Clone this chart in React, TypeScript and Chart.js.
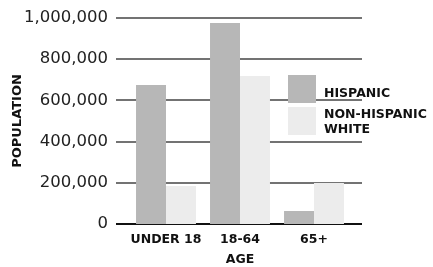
import React, { useEffect, useRef } from "react";
import { Chart, registerables } from "chart.js";

Chart.register(...registerables);

const categories = ["UNDER 18", "18-64", "65+"];
const hispanic = [675000, 976000, 63000];
const nonHispanicWhite = [184000, 718000, 199000];
const seriesNames = [["HISPANIC"], ["NON-HISPANIC", "WHITE"]];
const yTicks = [0, 200000, 400000, 600000, 800000, 1000000];

const HISP_COLOR = "#b7b7b7";
const NHW_COLOR = "#ececec";
const FONT = "'DejaVu Sans', sans-serif";

const gridPlugin = {
  id: "extGrid",
  beforeDatasetsDraw(chart: any) {
    const { ctx, chartArea, scales } = chart;
    const y = scales.y;
    ctx.save();
    yTicks.forEach((v) => {
      const py = Math.round(y.getPixelForValue(v));
      ctx.beginPath();
      if (v === 0) {
        ctx.strokeStyle = "#111";
        ctx.lineWidth = 2;
      } else {
        ctx.strokeStyle = "#444";
        ctx.lineWidth = 1.5;
      }
      ctx.moveTo(chartArea.left - 13, py);
      ctx.lineTo(chartArea.right + 11, py);
      ctx.stroke();
    });
    ctx.restore();
  },
  afterDatasetsDraw(chart: any) {
    const { ctx, chartArea } = chart;
    const colors = [HISP_COLOR, NHW_COLOR];
    const x0 = chartArea.right - 63;
    let top = 75;
    ctx.save();
    ctx.font = "bold 12.5px " + FONT;
    ctx.textBaseline = "alphabetic";
    seriesNames.forEach((lines, i) => {
      ctx.fillStyle = colors[i];
      ctx.fillRect(x0, top, 28, 28);
      ctx.fillStyle = "#111";
      lines.forEach((ln, j) => {
        ctx.fillText(ln, x0 + 36, top + (i === 0 ? 22 : 11) + j * 14.5);
      });
      top += 32;
    });
    ctx.restore();
  },
};

export default function App() {
  const ref = useRef<HTMLCanvasElement>(null);
  useEffect(() => {
    if (!ref.current) return;
    const chart = new Chart(ref.current, {
      type: "bar",
      data: {
        labels: categories,
        datasets: [
          { label: "Hispanic", data: hispanic, backgroundColor: HISP_COLOR },
          { label: "Non-Hispanic White", data: nonHispanicWhite, backgroundColor: NHW_COLOR },
        ],
      },
      options: {
        animation: false,
        responsive: false,
        maintainAspectRatio: false,
        layout: { padding: { top: 18, right: 82, left: 0, bottom: 0 } },
        plugins: { legend: { display: false }, tooltip: { enabled: false } },
        datasets: { bar: { categoryPercentage: 0.81, barPercentage: 1.0 } },
        scales: {
          x: {
            grid: { display: false, drawTicks: false },
            border: { display: false },
            ticks: { color: "#111", font: { family: FONT, size: 12.5, weight: "bold" }, padding: 8, maxRotation: 0, minRotation: 0, autoSkip: false },
            title: { display: true, text: "AGE", color: "#111", font: { family: FONT, size: 12.5, weight: "bold" }, padding: { top: 4, bottom: 0 } },
            afterFit: (s: any) => { s.height = 43; s.paddingLeft = 0; s.paddingRight = 0; },
          },
          y: {
            min: 0,
            max: 1000000,
            afterBuildTicks: (s: any) => { s.ticks = yTicks.map((v) => ({ value: v })); },
            grid: { display: false, drawTicks: false },
            border: { display: false },
            ticks: {
              color: "#222",
              padding: 21,
              font: { family: FONT, size: 16.5 },
              callback: (v: any) => Number(v).toLocaleString("en-US"),
            },
            title: { display: true, text: "POPULATION", color: "#111", font: { family: FONT, size: 13, weight: "bold" }, padding: { top: 10, bottom: 0 } },
            afterFit: (s: any) => { s.width = 129; s.paddingTop = 0; s.paddingBottom = 0; },
          },
        },
      },
      plugins: [gridPlugin],
    });
    return () => chart.destroy();
  }, []);
  return (
    <div style={{ position: "fixed", left: 0, top: 0, width: 433, height: 267, background: "#fff" }}>
      <canvas ref={ref} width={433} height={267} style={{ width: 433, height: 267 }} />
    </div>
  );
}
